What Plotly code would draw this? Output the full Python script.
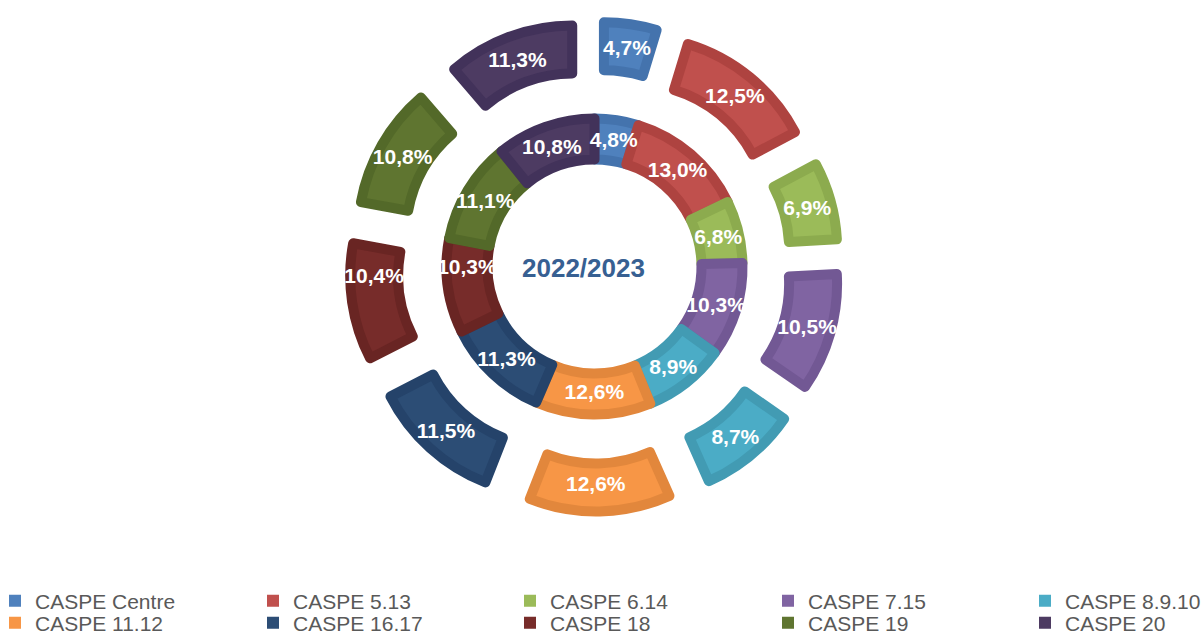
import plotly.graph_objects as go

# --- data -------------------------------------------------------------
CATEGORIES = ["CASPE Centre", "CASPE 5.13", "CASPE 6.14", "CASPE 7.15", "CASPE 8.9.10",
              "CASPE 11.12", "CASPE 16.17", "CASPE 18", "CASPE 19", "CASPE 20"]
INNER_VALUES = [4.8, 13.0, 6.8, 10.3, 8.9, 12.6, 11.3, 10.3, 11.1, 10.8]
OUTER_VALUES = [4.7, 12.5, 6.9, 10.5, 8.7, 12.6, 11.5, 10.4, 10.8, 11.3]
CENTER_TITLE = "2022/2023"

# --- styling ----------------------------------------------------------
FILL = ["#4f81bd", "#c0504d", "#9bbb59", "#8064a2", "#4bacc6",
        "#f79646", "#2c4d75", "#772c2a", "#5f7530", "#4d3b62"]
EDGE = ["#4473ad", "#ae4340", "#8cab4e", "#725894", "#429bb3",
        "#e2873c", "#25436a", "#692523", "#536929", "#42325a"]
STROKE = 10
FONT = "Liberation Sans, Arial, sans-serif"

W, H = 1204, 635
CX, CY = 594.5, 266.5           # ring centre in pixels (from top-left)

# outer ring: exploded slices
OUT_R = 181.0
OUT_PULL_PX = 64.0
OUT_HOLE_PX = 133.0
# inner ring
IN_R = 148.0
IN_HOLE_PX = 107.0

# legend grid: left edge of each column's swatch, centre line of each row
LEGEND_COLS = [12, 270, 527, 785, 1042]
LEGEND_ROWS = [601, 623]


def domain(half):
    return dict(x=[(CX - half) / W, (CX + half) / W],
                y=[(H - CY - half) / H, (H - CY + half) / H])


TEXT_FONT = dict(family=FONT, size=21, color="white", weight="bold")

rings = [
    dict(values=OUTER_VALUES, hole=OUT_HOLE_PX / OUT_R, pull=OUT_PULL_PX / OUT_R,
         domain=domain(OUT_R + OUT_PULL_PX)),
    dict(values=INNER_VALUES, hole=IN_HOLE_PX / IN_R, pull=0,
         domain=domain(IN_R)),
]

fig = go.Figure()

# coloured slices
for ring in rings:
    fig.add_trace(go.Pie(
        labels=CATEGORIES, values=ring["values"], sort=False, direction="clockwise", rotation=0,
        hole=ring["hole"], pull=ring["pull"], domain=ring["domain"],
        marker=dict(colors=FILL, line=dict(color=EDGE, width=STROKE)),
        textinfo="none", showlegend=False, hoverinfo="label+value",
    ))

# percentage labels on a transparent copy of each ring so no slice covers them
for ring in rings:
    fig.add_trace(go.Pie(
        labels=CATEGORIES, values=ring["values"], sort=False, direction="clockwise", rotation=0,
        hole=ring["hole"], pull=ring["pull"], domain=ring["domain"],
        marker=dict(colors=["rgba(0,0,0,0)"] * len(CATEGORIES), line=dict(width=0)),
        texttemplate="%{value:.1f}%", textposition="inside", insidetextorientation="horizontal",
        textfont=TEXT_FONT, showlegend=False, hoverinfo="skip",
    ))

# one legend per entry, laid out on a 5 x 2 grid; the legend-only pies get a
# vanishingly small domain so they draw nothing visible on the page
TINY = 1e-6
legends = {}
for i, name in enumerate(CATEGORIES):
    key = "legend" if i == 0 else f"legend{i + 1}"
    col, row = i % 5, i // 5
    fig.add_trace(go.Pie(
        labels=[name], values=[OUTER_VALUES[i]], sort=False,
        marker=dict(colors=[FILL[i]], line=dict(width=0)), textinfo="none", hoverinfo="skip",
        domain=dict(x=[0.5, 0.5 + TINY], y=[0.5, 0.5 + TINY]),
        legend=key, showlegend=True,
    ))
    legends[key] = dict(
        orientation="h", xanchor="left", yanchor="middle",
        x=(LEGEND_COLS[col] - 17) / W, y=(H - LEGEND_ROWS[row]) / H,
        font=dict(family=FONT, size=21, color="#595959"),
        bgcolor="rgba(0,0,0,0)",
    )

fig.update_layout(
    width=W, height=H,
    margin=dict(l=0, r=0, t=0, b=0, autoexpand=False),
    paper_bgcolor="white", plot_bgcolor="white",
    separators=",.",
    uniformtext=dict(minsize=21, mode="show"),
    annotations=[dict(
        text=CENTER_TITLE, x=583 / W, y=(H - 268) / H, xref="paper", yref="paper",
        showarrow=False, xanchor="center", yanchor="middle",
        font=dict(family=FONT, size=26, color="#376092", weight="bold"),
    )],
    **legends,
)

fig.write_html("out.html")
